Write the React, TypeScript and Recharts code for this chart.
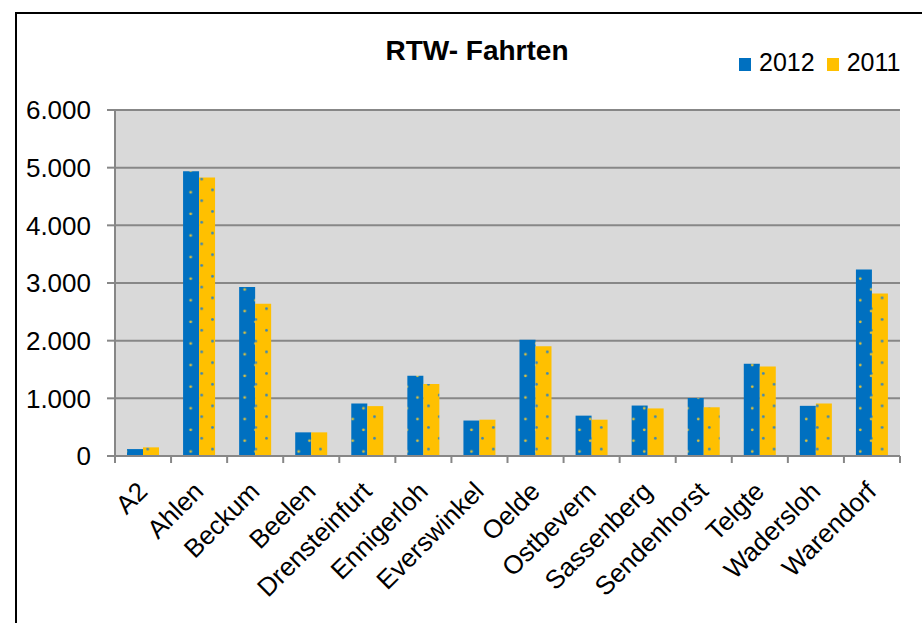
import { BarChart, Bar, XAxis, YAxis, CartesianGrid } from 'recharts';

const categories = [
  'A2', 'Ahlen', 'Beckum', 'Beelen', 'Drensteinfurt', 'Ennigerloh', 'Everswinkel',
  'Oelde', 'Ostbevern', 'Sassenberg', 'Sendenhorst', 'Telgte', 'Wadersloh', 'Warendorf',
];
const values2012 = [120, 4940, 2930, 410, 910, 1390, 615, 2015, 700, 875, 1005, 1600, 870, 3235];
const values2011 = [150, 4830, 2640, 410, 865, 1250, 630, 1905, 630, 825, 845, 1550, 910, 2820];
const yTicks = [0, 1000, 2000, 3000, 4000, 5000, 6000];

const FONT = '"Liberation Sans", Arial, sans-serif';
const BLUE = '#0070C0';
const YELLOW = '#FFC000';
const GRID = '#878787';

const series = [
  { key: 'y2012', name: '2012', color: BLUE, pattern: 'dots2012' },
  { key: 'y2011', name: '2011', color: YELLOW, pattern: 'dots2011' },
];

const W = 922;
const H = 623;
const MARGIN = { top: 110, right: 22, bottom: 0, left: 0 };
const Y_AXIS_W = 115;
const X_AXIS_H = 167;
const STEP = (W - MARGIN.right - MARGIN.left - Y_AXIS_W) / categories.length;

const data = categories.map((name, i) => ({
  name,
  y2012: values2012[i],
  y2011: values2011[i],
}));

// deutsches Tausendertrennzeichen
const fmt = (v: number) => String(v).replace(/\B(?=(\d{3})+(?!\d))/g, '.');

const CategoryTick = (props: any) => {
  const { x, y, payload, index } = props;
  const half = STEP / 2;
  const tx = x + 6;
  const ty = y + 37;
  return (
    <g>
      <line x1={x - half} y1={y} x2={x - half} y2={y + 7} stroke={GRID} strokeWidth={2} />
      {index === categories.length - 1 && (
        <line x1={x + half} y1={y} x2={x + half} y2={y + 7} stroke={GRID} strokeWidth={2} />
      )}
      <text
        x={tx}
        y={ty}
        textAnchor="end"
        transform={`rotate(-45, ${tx}, ${ty})`}
        fontSize={26}
        fontFamily={FONT}
        fill="#000"
      >
        {payload.value}
      </text>
    </g>
  );
};

export default function App() {
  return (
    <div style={{ position: 'absolute', left: 0, top: 0, width: W, height: H, overflow: 'hidden', background: '#fff' }}>
      {/* Rahmen */}
      <div
        style={{
          position: 'absolute',
          left: 15,
          top: 12,
          width: 1200,
          height: 1200,
          border: '2px solid #000',
        }}
      />
      <div
        style={{
          position: 'absolute',
          left: 477,
          top: 37,
          transform: 'translateX(-50%)',
          fontFamily: FONT,
          fontWeight: 'bold',
          fontSize: 28,
          lineHeight: '28px',
          whiteSpace: 'nowrap',
          color: '#000',
        }}
      >
        RTW- Fahrten
      </div>
      <div
        style={{
          position: 'absolute',
          left: 739,
          top: 50,
          display: 'flex',
          alignItems: 'flex-end',
          fontFamily: FONT,
          fontSize: 25,
          lineHeight: '25px',
          color: '#000',
          whiteSpace: 'nowrap',
        }}
      >
        {series.map((s) => (
          <div key={s.key} style={{ display: 'flex', alignItems: 'flex-end', marginRight: 12 }}>
            <span
              style={{
                display: 'inline-block',
                width: 12,
                height: 13,
                background: s.color,
                marginRight: 8,
                marginBottom: 4,
              }}
            />
            <span>{s.name}</span>
          </div>
        ))}
      </div>
      <BarChart
        width={W}
        height={H}
        data={data}
        margin={MARGIN}
        barCategoryGap="21.4%"
        barGap={0}
        style={{ position: 'absolute', left: 0, top: 0 }}
      >
        <defs>
          <pattern id="dots2012" patternUnits="userSpaceOnUse" width={21.6} height={21.6}>
            <rect width={21.6} height={21.6} fill={BLUE} />
            <circle cx={7.1} cy={8.7} r={1.4} fill="#D8C040" />
            <circle cx={17.9} cy={19.5} r={1.4} fill="#D8C040" />
          </pattern>
          <pattern id="dots2011" patternUnits="userSpaceOnUse" width={21.6} height={21.6}>
            <rect width={21.6} height={21.6} fill={YELLOW} />
            <circle cx={7.3} cy={6.3} r={1.4} fill="#3A86B8" />
            <circle cx={18.1} cy={17.1} r={1.4} fill="#3A86B8" />
          </pattern>
        </defs>
        <CartesianGrid vertical={false} stroke={GRID} strokeWidth={2} fill="#D9D9D9" />
        <XAxis
          dataKey="name"
          interval={0}
          height={X_AXIS_H}
          tickSize={0}
          tickMargin={0}
          tickLine={false}
          axisLine={{ stroke: GRID, strokeWidth: 2 }}
          tick={<CategoryTick />}
        />
        <YAxis
          width={Y_AXIS_W}
          domain={[0, 6000]}
          ticks={yTicks}
          tickFormatter={fmt}
          tickSize={8}
          tickMargin={16}
          tickLine={{ stroke: GRID, strokeWidth: 2 }}
          axisLine={{ stroke: GRID, strokeWidth: 2 }}
          tick={{ fill: '#000', fontSize: 26, fontFamily: FONT }}
        />
        {series.map((s) => (
          <Bar key={s.key} dataKey={s.key} name={s.name} fill={`url(#${s.pattern})`} isAnimationActive={false} />
        ))}
      </BarChart>
    </div>
  );
}
